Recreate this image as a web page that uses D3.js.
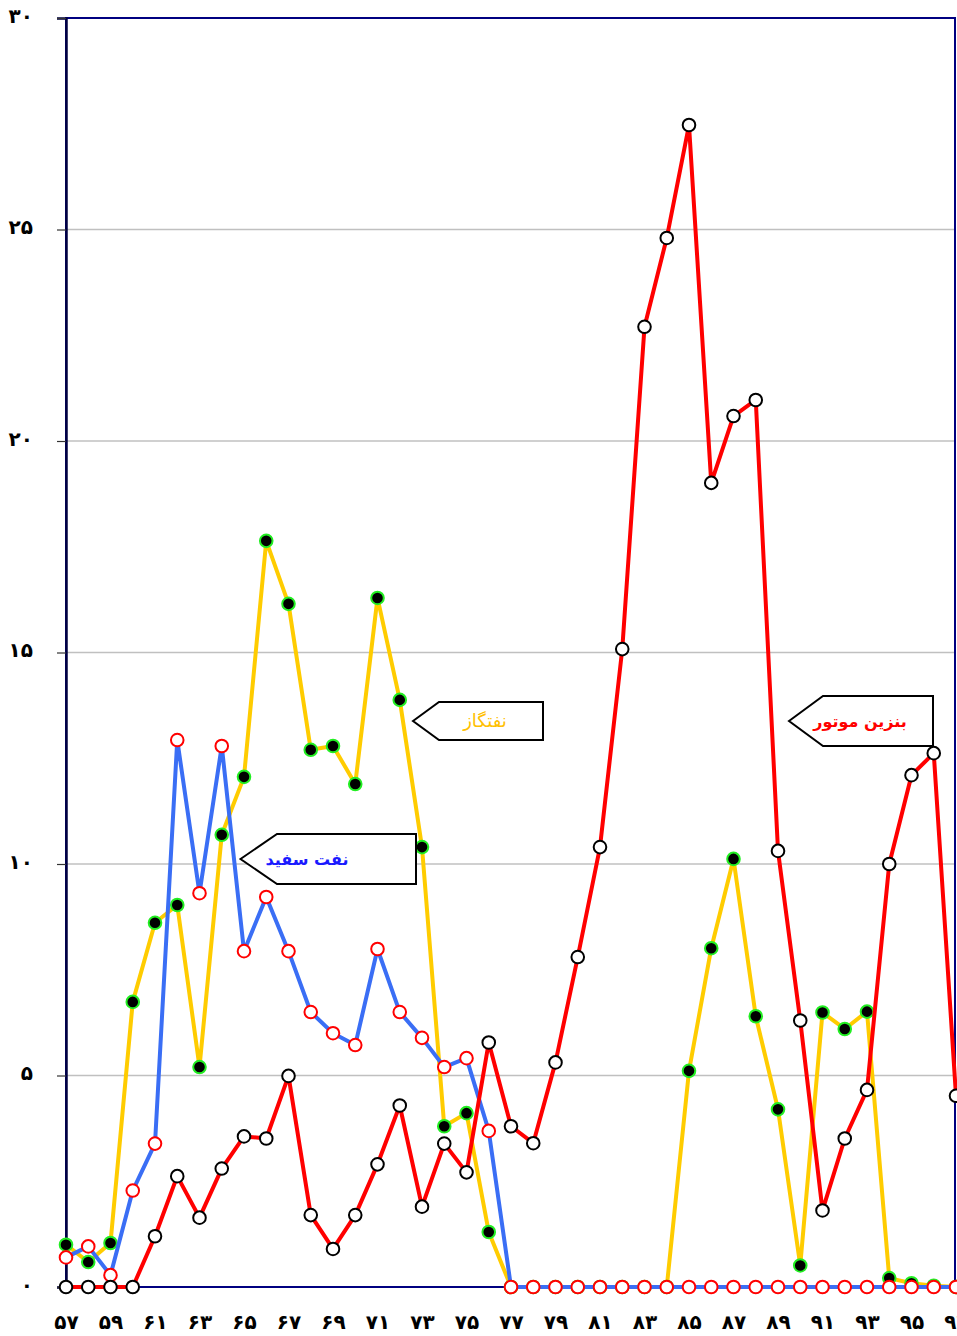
<!DOCTYPE html>
<html><head><meta charset="utf-8">
<script src="https://cdn.jsdelivr.net/npm/d3@7"></script>
<style>
html,body{margin:0;padding:0;background:#fff;}
svg{display:block;font-family:"DejaVu Sans",sans-serif;}
</style></head>
<body>
<svg id="c" width="957" height="1336"></svg>
<script>
const years = d3.range(57, 98);
const gasoline = [0,0,0,0,1.2,2.62,1.64,2.8,3.56,3.51,4.99,1.7,0.9,1.7,2.9,4.29,1.9,3.39,2.71,5.78,3.8,3.4,5.31,7.8,10.4,15.08,22.7,24.8,27.47,19.01,20.59,20.97,10.31,6.3,1.81,3.51,4.66,10.0,12.1,12.62,4.52];
const gasoil = [1.0,0.59,1.04,6.74,8.61,9.03,5.2,10.69,12.06,17.64,16.15,12.7,12.79,11.89,16.29,13.88,10.4,3.8,4.11,1.3,0,0,0,0,0,0,0,0,5.11,8.01,10.12,6.4,4.2,0.51,6.49,6.1,6.51,0.21,0.09,0.03,0];
const kerosene = [0.7,0.96,0.28,2.28,3.39,12.93,9.31,12.79,7.94,9.22,7.94,6.5,6.0,5.72,7.99,6.5,5.89,5.2,5.41,3.69,0,0,0,0,0,0,0,0,0,0,0,0,0,0,0,0,0,0,0,0,0];
const yTicks = [0,5,10,15,20,25,30];
const yTickLabels = ["۰","۵","۱۰","۱۵","۲۰","۲۵","۳۰"];
const xTicks = [57,59,61,63,65,67,69,71,73,75,77,79,81,83,85,87,89,91,93,95,97];
const xTickLabels = ["۵۷","۵۹","۶۱","۶۳","۶۵","۶۷","۶۹","۷۱","۷۳","۷۵","۷۷","۷۹","۸۱","۸۳","۸۵","۸۷","۸۹","۹۱","۹۳","۹۵","۹۷"];
const seriesNames = ["نفتگاز","نفت سفید","بنزین موتور"];

const svg = d3.select("#c");
const L = 66, R = 956, T = 18, B = 1287;
const x = d3.scaleLinear().domain([57,97]).range([L,R]);
const y = d3.scaleLinear().domain([0,30]).range([B,T]);

// grid
svg.append("g").selectAll("line").data(yTicks.filter(v=>v>0 && v<30)).join("line")
  .attr("x1",L).attr("x2",R).attr("y1",d=>y(d)).attr("y2",d=>y(d))
  .attr("stroke","#c0c0c0").attr("stroke-width",1.5);

// frame
svg.append("rect").attr("x",L).attr("y",T).attr("width",R-1-L).attr("height",B-T)
  .attr("fill","none").attr("stroke","#000080").attr("stroke-width",2);

// y axis
const yAxis = d3.axisLeft(y).tickValues(yTicks).tickSize(9).tickPadding(24)
  .tickFormat((d,i)=>yTickLabels[i]);
const ga = svg.append("g").attr("transform",`translate(${L},0)`).call(yAxis);
ga.select(".domain").attr("stroke","#000040").attr("stroke-width",2.5);
ga.selectAll(".tick line").attr("stroke","#333").attr("stroke-width",1.2);
ga.selectAll(".tick text").attr("font-size",20).attr("font-weight","bold")
  .attr("font-family","DejaVu Sans").attr("fill","#000").attr("dy","0.2em");

// x axis
const xAxis = d3.axisBottom(x).tickValues(xTicks).tickSize(0).tickPadding(28)
  .tickFormat((d,i)=>xTickLabels[i]);
const gx = svg.append("g").attr("transform",`translate(0,${B})`).call(xAxis);
gx.select(".domain").remove();
gx.selectAll(".tick text").attr("font-size",20).attr("font-weight","bold")
  .attr("font-family","DejaVu Sans").attr("fill","#000");

const line = d3.line().x((d,i)=>x(years[i])).y(d=>y(d));

function drawSeries(vals, color, mFill, mStroke){
  const g = svg.append("g");
  g.append("path").datum(vals).attr("d",line).attr("fill","none")
    .attr("stroke",color).attr("stroke-width",4).attr("stroke-linejoin","round");
  g.selectAll("circle").data(vals).join("circle")
    .attr("cx",(d,i)=>x(years[i])).attr("cy",d=>y(d)).attr("r",6.3)
    .attr("fill",mFill).attr("stroke",mStroke).attr("stroke-width",2);
}
drawSeries(gasoil, "#ffcc00", "#000", "#22ee22");
drawSeries(kerosene, "#3a6ef5", "#fff", "#ff0000");
drawSeries(gasoline, "#ff0000", "#fff", "#000");

// callouts
function callout(tipX, tipY, leftX, rightX, top, bottom, textX, text, color, weight, size){
  const g = svg.append("g");
  g.append("polygon")
    .attr("points",[[tipX,tipY],[leftX,top],[rightX,top],[rightX,bottom],[leftX,bottom]].map(p=>p.join(",")).join(" "))
    .attr("fill","#fff").attr("stroke","#000").attr("stroke-width",2);
  g.append("text").attr("x",textX).attr("y",(top+bottom)/2+6)
    .attr("text-anchor","middle").attr("font-size",size).attr("font-weight",weight)
    .attr("fill",color).attr("direction","rtl").text(text);
}
callout(240.5, 859, 277, 416, 834, 884, 307, seriesNames[1], "#1a1aff", "bold", 16);
callout(413, 721, 439, 543, 702, 740, 485, seriesNames[0], "#ffc000", "normal", 18);
callout(789, 721, 823, 933, 696, 746, 860, seriesNames[2], "#ff0000", "bold", 16);
</script>
</body></html>
